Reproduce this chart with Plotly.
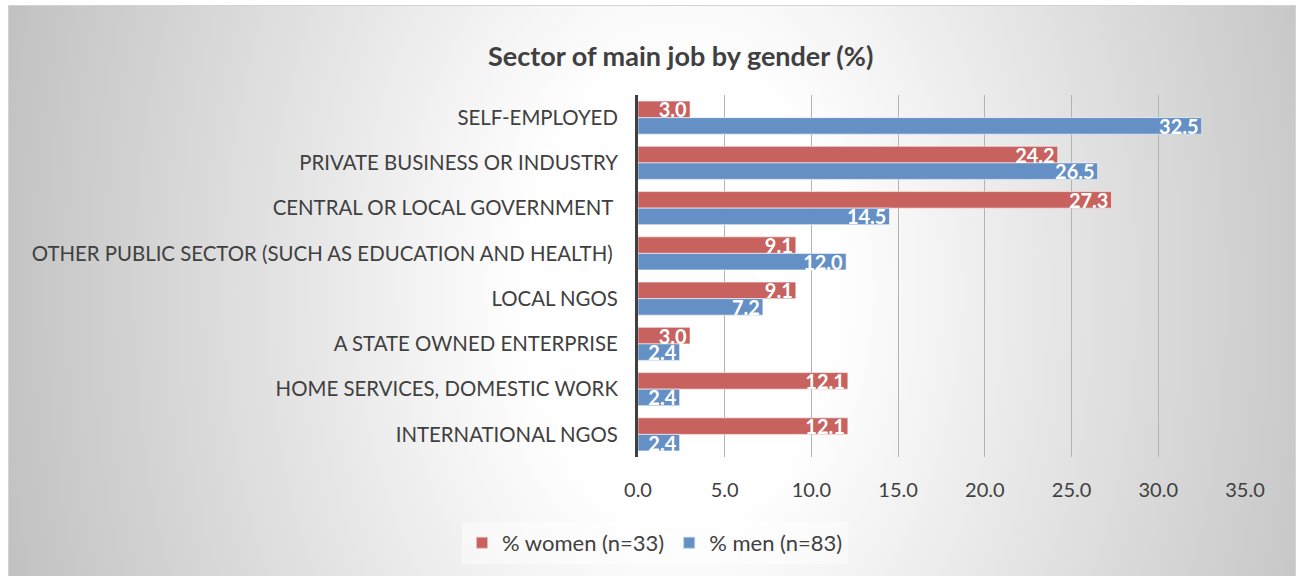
import base64
import plotly.graph_objects as go

# Sector of main job, shares in percent
sectors = [
    "SELF-EMPLOYED",
    "PRIVATE BUSINESS OR INDUSTRY",
    "CENTRAL OR LOCAL GOVERNMENT\u00a0",
    "OTHER PUBLIC SECTOR (SUCH AS EDUCATION AND HEALTH)\u00a0",
    "LOCAL NGOS",
    "A STATE OWNED ENTERPRISE",
    "HOME SERVICES, DOMESTIC WORK",
    "INTERNATIONAL NGOS",
]
women_pct = [3.0, 24.2, 27.3, 9.1, 9.1, 3.0, 12.1, 12.1]
men_pct = [32.5, 26.5, 14.5, 12.0, 7.2, 2.4, 2.4, 2.4]
women_name = "% women (n=33)"
men_name = "% men (n=83)"
x_ticks = [0, 5, 10, 15, 20, 25, 30, 35]
x_tick_labels = ["0.0", "5.0", "10.0", "15.0", "20.0", "25.0", "30.0", "35.0"]

chart_title = "Sector of main job by gender (%)"
caption = "Figure 13: Sector of main job/employment by gender"

W, H = 1300, 576
L, R, T, B = 638, 55, 95, 119
PW, PH = W - L - R, H - T - B

FONT = "Lato, Calibri, sans-serif"
GREY_TXT = "#404040"
RED = "#C8625F"
BLUE = "#6590C6"

# radial grey-to-white backdrop of the chart box
box_x0, box_y0, box_x1, box_y1 = 8, 5, 1296, 580
bw, bh = box_x1 - box_x0, box_y1 - box_y0
cx, cy = 680 - box_x0, 290 - box_y0
svg = f"""<svg xmlns='http://www.w3.org/2000/svg' width='{bw}' height='{bh}' viewBox='0 0 {bw} {bh}' preserveAspectRatio='none'>
<defs><radialGradient id='g' gradientUnits='userSpaceOnUse' cx='{cx}' cy='{cy}' r='700'
 gradientTransform='translate({cx} {cy}) scale(1 1.45) translate({-cx} {-cy})'>
<stop offset='0' stop-color='#ffffff'/><stop offset='0.22' stop-color='#ffffff'/>
<stop offset='1' stop-color='#c1c1c1'/></radialGradient></defs>
<rect x='0' y='0' width='{bw}' height='{bh}' fill='url(#g)' stroke='#d4d4d4' stroke-width='2'/>
</svg>"""
bg_uri = "data:image/svg+xml;base64," + base64.b64encode(svg.encode()).decode()


def px_to_paper_x(px):
    return (px - L) / PW


def px_to_paper_y(py):
    return (H - B - py) / PH


fig = go.Figure()
for name, vals, col in [(women_name, women_pct, RED), (men_name, men_pct, BLUE)]:
    fig.add_trace(go.Bar(
        y=sectors, x=vals, name=name, orientation="h",
        marker=dict(color=col, line=dict(color="rgba(255,255,255,0.55)", width=1)),
        text=[f"{v:.1f}" for v in vals],
        textposition="inside", insidetextanchor="end",
        textfont=dict(family=FONT, size=20, color="white", weight="bold"),
        cliponaxis=False,
    ))

fig.update_layout(
    width=W, height=H,
    margin=dict(l=L, r=R, t=T, b=B, autoexpand=False),
    paper_bgcolor="white", plot_bgcolor="rgba(0,0,0,0)",
    barmode="group", bargap=0.27, bargroupgap=0,
    uniformtext=dict(minsize=20, mode="show"),
    font=dict(family=FONT, color=GREY_TXT, size=20),
    showlegend=True,
    legend=dict(
        orientation="h", x=px_to_paper_x(655), y=px_to_paper_y(543),
        xanchor="center", yanchor="middle",
        bgcolor="rgba(255,255,255,0.45)",
        font=dict(family=FONT, size=22, color=GREY_TXT),
        itemsizing="constant", tracegroupgap=0, itemwidth=30,
    ),
    xaxis=dict(
        range=[0, 35], tickvals=x_ticks, ticktext=x_tick_labels,
        showgrid=True, gridcolor="#b3b3b3", gridwidth=1,
        zeroline=False, showline=False, ticks="",
        ticklabelstandoff=19,
        tickfont=dict(family=FONT, size=20, color=GREY_TXT),
    ),
    yaxis=dict(
        autorange="reversed", showgrid=False, zeroline=False,
        showline=True, linecolor="#404040", linewidth=3, ticks="",
        ticklabelstandoff=13,
        tickfont=dict(family=FONT, size=20.4, color=GREY_TXT),
    ),
    images=[dict(
        source=bg_uri, xref="paper", yref="paper",
        x=px_to_paper_x(box_x0), y=px_to_paper_y(box_y0),
        sizex=bw / PW, sizey=bh / PH,
        xanchor="left", yanchor="top", sizing="stretch", layer="below",
    )],
    annotations=[
        dict(text=f"<b>{chart_title}</b>", xref="paper", yref="paper",
             x=px_to_paper_x(680), y=px_to_paper_y(55),
             xanchor="center", yanchor="middle", showarrow=False,
             font=dict(family=FONT, size=27, color=GREY_TXT)),
        dict(text=f"<b><i>{caption}</i></b>", xref="paper", yref="paper",
             x=px_to_paper_x(9), y=px_to_paper_y(-18),
             xanchor="left", yanchor="middle", showarrow=False,
             font=dict(family="Liberation Serif, serif", size=33, color="#1F4E8C")),
    ],
)

fig.write_html("out.html")
